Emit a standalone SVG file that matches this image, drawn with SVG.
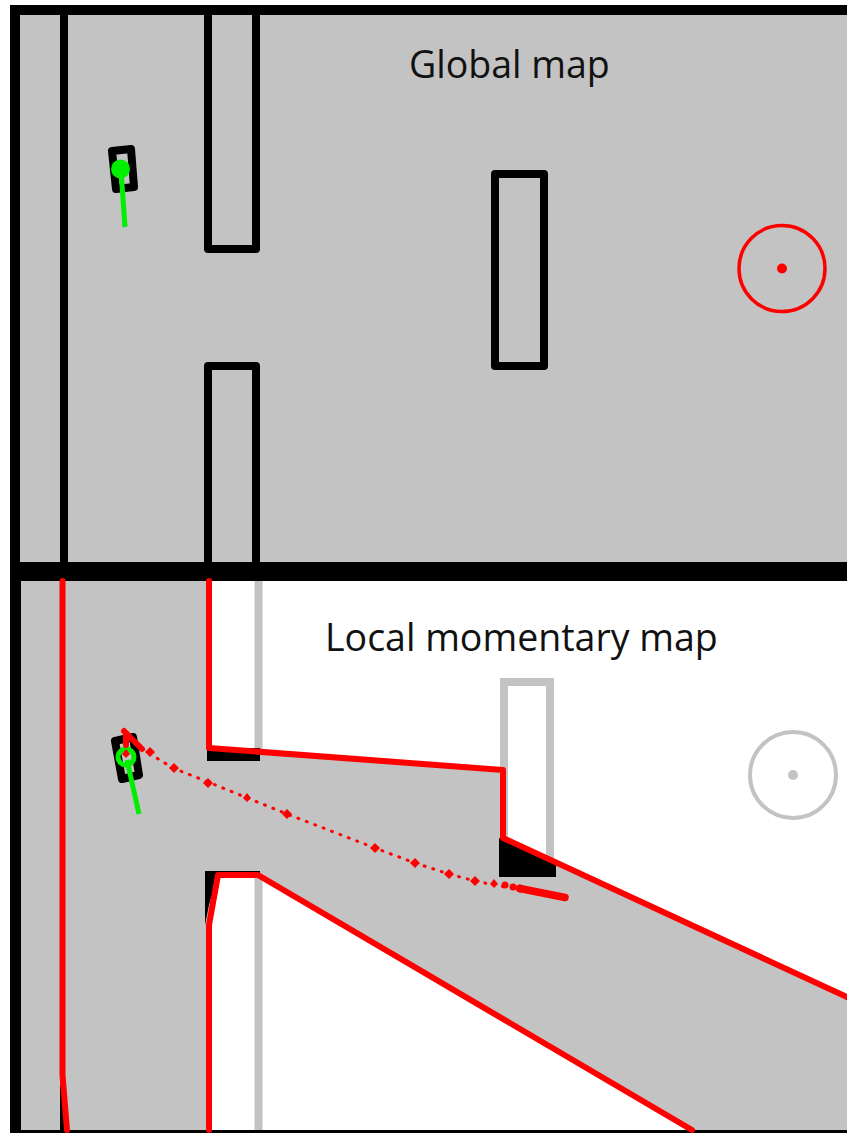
<svg xmlns="http://www.w3.org/2000/svg" width="847" height="1133" viewBox="0 0 847 1133">
<style>
.lbl{font-family:"Open Sans","Noto Sans","Liberation Sans",sans-serif;font-size:37.5px;fill:#111}
.w{fill:none;stroke:#000;stroke-width:8;stroke-linejoin:round}
.g{fill:none;stroke:#c3c3c3;stroke-width:8}
.r{fill:none;stroke:#f00;stroke-width:6;stroke-linejoin:round;stroke-linecap:round}
.rd{fill:#f00}
.gl{stroke:#0e0;stroke-width:5;fill:none}
</style>
<rect width="847" height="1133" fill="#fff"/>
<g id="global-map">
<rect x="10" y="5" width="837" height="567" fill="#000"/>
<rect x="20" y="15" width="827" height="547" fill="#c3c3c3"/>
<path class="w" d="M64 15V562"/>
<path class="w" d="M208 15V249H256V15"/>
<path class="w" d="M208 562V366H256V562"/>
<rect class="w" x="495" y="174" width="49" height="192"/>
<path id="robot-top" d="M112 151L131 149L134 187L116 189Z" fill="none" stroke="#000" stroke-width="8" stroke-linejoin="round"/>
<path class="gl" d="M121 170L125 227"/>
<circle cx="120.500" cy="169" r="9.500" fill="#0e0"/>
<g id="goal-top"><circle cx="782" cy="268.500" r="43" fill="none" stroke="#f00" stroke-width="3.500"/><circle cx="782" cy="268.500" r="5" fill="#f00"/></g>
<text class="lbl" x="409" y="78">Global map</text>
</g>
<g id="local-map">
<rect x="10" y="562" width="837" height="571" fill="#000"/>
<rect x="21" y="581" width="826" height="549" fill="#fff"/>
<path d="M21 581H209V748L503 770V838L847 997V1130H692L258 875H218L209 925V1130H21Z" fill="#c3c3c3"/>
<path class="g" d="M258.500 581V750M258.500 875V1130"/>
<path class="g" d="M504 838V682H550V860"/>
<path d="M207 748H260V761H207Z" fill="#000"/>
<path d="M205 925V871H260V875H218L209 905Z" fill="#000"/>
<path d="M499 838L556 862V877H499Z" fill="#000"/>
<path d="M60 1080V1130H66Z" fill="#000"/>
<g id="robot-bottom"><path d="M115 741L133 737L139 775L122 779Z" fill="none" stroke="#000" stroke-width="8" stroke-linejoin="round"/>
<path class="gl" d="M127 760L139 814"/>
<circle cx="126" cy="757" r="8" fill="none" stroke="#0e0" stroke-width="5"/></g>
<g id="goal-bottom"><circle cx="793" cy="775" r="43" fill="none" stroke="#c3c3c3" stroke-width="4"/><circle cx="793" cy="775" r="5" fill="#c3c3c3"/></g>
<text class="lbl" x="325" y="651">Local momentary map</text>
</g>
<g id="connectors">
<path class="r" d="M62.500 581V1075L67 1130"/>
<path class="r" d="M209 581V748L503 770V838L847 997"/>
<path class="r" d="M209 1130V925L218 875H258L692 1130"/>
<path class="r" d="M124 731L142 749M126 735V745" />
<path d="M142 749L173 768L208 782L287 814L375 848L415 863L449 874L475 881L505 887" fill="none" stroke="#f00" stroke-width="3" stroke-dasharray="1 8" stroke-linecap="round"/>
<g class="rd">
<path d="M150 747l5 5-5 5-5-5z"/><path d="M174 763l5 5-5 5-5-5z"/><path d="M208 778l5 5-5 5-5-5z"/><path d="M247 793l4 5-4 4-4-4z"/><path d="M287 809l5 5-5 5-5-5z"/><path d="M375 843l5 5-5 5-5-5z"/><path d="M415 858l5 5-5 5-5-5z"/><path d="M449 869l5 5-5 5-5-5z"/><path d="M475 876l5 5-5 5-5-5z"/><path d="M494 879l4 5-4 4-4-4z"/><path d="M126 749l4 5-4 4-4-4z"/>
<circle cx="505" cy="885" r="3.500"/><circle cx="513" cy="887" r="3.500"/><circle cx="520" cy="888.500" r="4"/>
</g>
<path d="M520 888.500L565 897.500" fill="none" stroke="#f00" stroke-width="7.500" stroke-linecap="round"/>
</g>
</svg>
